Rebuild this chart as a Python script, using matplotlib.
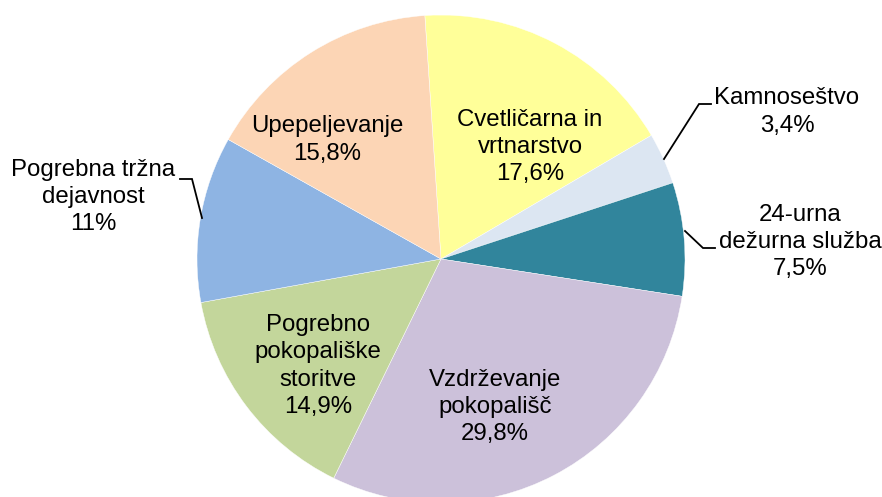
import numpy as np
import matplotlib.pyplot as plt

plt.rcParams['font.family'] = ['Liberation Sans', 'DejaVu Sans']

# podaci
kategorije = ['Cvetličarna in\nvrtnarstvo', 'Kamnoseštvo', '24-urna\ndežurna služba',
              'Vzdrževanje\npokopališč', 'Pogrebno\npokopališke\nstoritve',
              'Pogrebna tržna\ndejavnost', 'Upepeljevanje']
deleži = [17.6, 3.4, 7.5, 29.8, 14.9, 11.0, 15.8]
oznake = ['17,6%', '3,4%', '7,5%', '29,8%', '14,9%', '11%', '15,8%']
barve = ['#FFFF99', '#DCE6F2', '#31859C', '#CCC1DA', '#C3D69B', '#8EB4E3', '#FCD5B5']

W, H = 882, 497
fig = plt.figure(figsize=(W / 100, H / 100), dpi=100)
ax = fig.add_axes([0, 0, 1, 1])

cx, cy, r = 441, H - 259, 244
start = 93.8
ax.pie(deleži, colors=barve, startangle=start, counterclock=False,
       center=(cx, cy), radius=r, frame=True,
       wedgeprops=dict(linewidth=0.3, edgecolor='white'))

ax.set_xlim(0, W)
ax.set_ylim(0, H)
ax.set_aspect('equal')
ax.axis('off')

# položaji oznak (piksli, y od vrha)
pozicije = [(530, 147), (787, 112), (800, 242), (495, 407), (318, 366), (93, 197), (327, 140)]
for kat, ozn, (x, y) in zip(kategorije, oznake, pozicije):
    ax.text(x, H - y, kat + '\n' + ozn, ha='center', va='center',
            fontsize=17.3, linespacing=1.3, color='black')

# vodilne crte
vodilne = [
    [(664, 159), (699, 104), (711, 104)],
    [(685, 231), (703, 248), (715, 248)],
    [(202, 218), (192, 179), (180, 179)],
]
for crta in vodilne:
    xs = [p[0] for p in crta]
    ys = [H - p[1] for p in crta]
    ax.plot(xs, ys, color='black', linewidth=1.3, solid_joinstyle='miter')

fig.savefig('out.png', dpi=100)
